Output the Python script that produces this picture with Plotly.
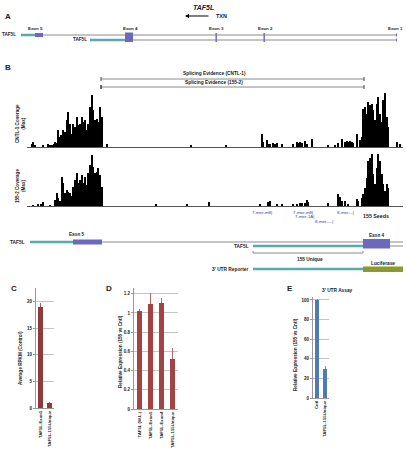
import plotly.graph_objects as go

W, H = 406, 454


def px(x):
    return x / W


def py(y):
    return 1 - y / H


# ---------------- data ----------------
# Panel B coverage (genomic bin position, coverage height; arbitrary units)
cov_pos_cntl = [32, 33.5, 35, 43, 48, 50, 52, 54, 55.5, 57, 58, 60, 61.5, 63, 65, 67, 68, 70, 72, 73,
                75, 77, 78, 80, 82, 83, 85, 87, 88, 90, 92, 93, 95, 97, 98, 100, 102, 107, 191, 226,
                262, 263.5, 267, 268.5, 270, 273, 275, 277, 282, 293, 297, 298.5, 300, 302, 305, 307, 312,
                328, 335, 338, 342, 345, 347, 348.5, 350, 352, 353, 357, 360, 362, 363, 365, 367, 368,
                370, 372, 373, 375, 377, 378, 380, 382, 383, 385, 387, 388, 397, 400]
cov_cntl = [3, 5, 2, 2, 3, 2, 2, 3, 5, 4, 17, 10, 12, 17, 15, 27, 35, 23, 13, 23,
            20, 30, 22, 23, 30, 25, 27, 17, 23, 40, 52, 37, 27, 28, 25, 40, 30, 3, 2, 2,
            13, 5, 7, 3, 3, 4, 3, 4, 3, 3, 5, 4, 5, 4, 6, 3, 8,
            2, 2, 4, 8, 5, 6, 5, 6, 5, 4, 13, 7, 10, 38, 40, 33, 45,
            42, 43, 37, 27, 43, 50, 33, 25, 47, 54, 30, 20, 5, 3]

cov_pos_155 = [33, 38, 41, 43, 50, 55, 57, 58, 60, 62, 63, 65, 67, 68, 70, 72, 73, 75, 77, 78,
               80, 82, 83, 85, 87, 88, 90, 92, 93, 95, 97, 98, 100, 102, 156, 187, 209,
               260, 268, 270, 277, 282, 293, 297, 300, 302, 305, 307, 308.5, 328, 338, 340, 342, 345,
               348, 357, 358.5, 362, 363, 365, 367, 368, 370, 372, 373, 375, 377, 378, 380, 382,
               383, 385, 387, 388]
cov_155 = [1, 2, 2, 4, 1, 6, 13, 8, 5, 29, 23, 13, 16, 14, 13, 10, 19, 26, 33, 23,
           26, 31, 23, 29, 21, 33, 41, 51, 39, 33, 34, 38, 31, 19, 2, 2, 4,
           2, 4, 5, 2, 2, 2, 2, 3, 3, 3, 6, 4, 3, 12, 9, 5, 5,
           2, 7, 5, 8, 12, 18, 28, 45, 48, 52, 32, 22, 38, 52, 45, 32,
           22, 15, 22, 18]

# Panel C
c_cats = ["TAF5L-Exon5", "TAF5L-155Unique"]
c_vals = [19.0, 0.9]
c_err = [0.8, 0.15]
c_ticks = [0, 5, 10, 15, 20]

# Panel D
d_cats = ["TAF5L (W.L.)", "TAF5L-Exon5", "TAF5L-Exon4", "TAF5L-155Unique"]
d_vals = [1.02, 1.09, 1.10, 0.52]
d_err = [0.02, 0.12, 0.06, 0.12]
d_ticks = [0, 0.2, 0.4, 0.6, 0.8, 1, 1.2]

# Panel E
e_cats = ["Cntl", "TAF5L-155Unique"]
e_vals = [100, 30]
e_err = [1, 3]
e_ticks = [0, 20, 40, 60, 80, 100]

# ---------------- styles ----------------
FONT = "Liberation Sans"
TEAL = "#5aa9ab"
PURP = "#6c68bd"
OLIVE = "#8c9a2e"
GRAY = "#8a8a8a"
DARK = "#222222"
RED_C = "#8e3b3b"
RED_D = "#a34343"
BLUE = "#4f7bb3"
GRID = "#c4c4c4"

fig = go.Figure()

# coverage tracks
fig.add_trace(go.Bar(x=cov_pos_cntl, y=cov_cntl, width=1.8, marker=dict(color="black", line_width=0),
                     xaxis="x", yaxis="y"))
fig.add_trace(go.Bar(x=cov_pos_155, y=cov_155, width=1.8, marker=dict(color="black", line_width=0),
                     xaxis="x2", yaxis="y2"))

# bar panels
fig.add_trace(go.Bar(x=c_cats, y=c_vals, width=0.45, marker=dict(color=RED_C, line_width=0),
                     error_y=dict(type="data", array=c_err, color=RED_C, thickness=0.8, width=0),
                     xaxis="x3", yaxis="y3"))
fig.add_trace(go.Bar(x=d_cats, y=d_vals, width=0.38, marker=dict(color=RED_D, line_width=0),
                     error_y=dict(type="data", array=d_err, color=RED_D, thickness=0.8, width=0),
                     xaxis="x4", yaxis="y4"))
fig.add_trace(go.Bar(x=e_cats, y=e_vals, width=0.5, marker=dict(color=BLUE, line_width=0),
                     error_y=dict(type="data", array=e_err, color=BLUE, thickness=0.8, width=0),
                     xaxis="x5", yaxis="y5"))


def track_axes(ybot, ytop):
    xa = dict(domain=[px(27), px(403)], range=[27, 403], showline=True, linecolor="#555", linewidth=1,
              showticklabels=False, showgrid=False, zeroline=False, ticks="", automargin=False, fixedrange=True)
    ya = dict(domain=[py(ybot), py(ytop)], range=[0, 55], visible=False, automargin=False)
    return xa, ya


def bar_axes(x0, x1, ybot, ytop, yrange, ticks, nc):
    xa = dict(domain=[px(x0), px(x1)], type="category", range=[-0.5, nc - 0.5], tickangle=-90,
              tickfont=dict(size=4.3, family=FONT, color=DARK, weight="bold"), showline=True, linecolor="#999",
              linewidth=1, ticks="", showgrid=False, zeroline=False, automargin=False)
    ya = dict(domain=[py(ybot), py(ytop)], range=yrange, tickvals=ticks, showgrid=True, gridcolor=GRID,
              gridwidth=1, showline=True, linecolor="#999", linewidth=1, ticks="outside", ticklen=2,
              tickcolor="#999", tickfont=dict(size=4.5, family=FONT, color=DARK, weight="bold"), zeroline=False,
              automargin=False)
    return xa, ya


xa1, ya1 = track_axes(147, 92)
xa2, ya2 = track_axes(206, 151)
xa3, ya3 = bar_axes(36, 54, 408, 288, [0, 22.6], c_ticks, 2)
xa4, ya4 = bar_axes(134, 178, 409, 288, [0, 1.26], d_ticks, 4)
xa5, ya5 = bar_axes(313, 329, 398, 297, [0, 103], e_ticks, 2)
xa1["anchor"] = "y"; ya1["anchor"] = "x"
xa2["anchor"] = "y2"; ya2["anchor"] = "x2"
xa3["anchor"] = "y3"; ya3["anchor"] = "x3"
xa4["anchor"] = "y4"; ya4["anchor"] = "x4"
xa5["anchor"] = "y5"; ya5["anchor"] = "x5"

shapes = []
annots = []


def line(x0, y0, x1, y1, color=GRAY, width=1):
    shapes.append(dict(type="line", xref="paper", yref="paper", x0=px(x0), y0=py(y0), x1=px(x1), y1=py(y1),
                       line=dict(color=color, width=width)))


def rect(x0, y0, x1, y1, color):
    shapes.append(dict(type="rect", xref="paper", yref="paper", x0=px(x0), y0=py(y0), x1=px(x1), y1=py(y1),
                       fillcolor=color, line=dict(width=0)))


def txt(x, y, s, size=5, bold=True, color=DARK, xanchor="center", angle=0, italic=False):
    t = s
    if bold:
        t = "<b>" + t + "</b>"
    if italic:
        t = "<i>" + t + "</i>"
    annots.append(dict(x=px(x), y=py(y), xref="paper", yref="paper", text=t, showarrow=False,
                       xanchor=xanchor, yanchor="middle", textangle=angle,
                       font=dict(size=size, family=FONT, color=color)))


# ---------- Panel A ----------
txt(3, 16, "A", size=8, xanchor="left")
txt(203, 7, "TAF5L", size=7, italic=True)
annots.append(dict(x=px(185), y=py(16), xref="paper", yref="paper", text="", showarrow=True,
                   ax=25, ay=0, axref="pixel", ayref="pixel", arrowhead=2, arrowsize=0.8,
                   arrowwidth=1, arrowcolor="black", standoff=0, startstandoff=0))
txt(214, 16, "TXN", size=5.5, xanchor="left")

line(21, 35, 397, 35, GRAY, 1)
line(21, 35, 35, 35, TEAL, 2.5)
rect(35, 33, 43, 37, PURP)
line(90, 40, 397, 40, GRAY, 1)
line(90, 40, 125, 40, TEAL, 2.5)
rect(125, 32.5, 133, 42, PURP)
rect(215.5, 33, 216.9, 42, PURP)
rect(263.5, 33, 264.9, 42, PURP)
line(396.5, 33.5, 396.5, 36.5, PURP, 1)
line(396.5, 38.5, 396.5, 41.5, PURP, 1)
txt(9, 34.5, "TAF5L", size=4.6, xanchor="center")
txt(80, 39.5, "TAF5L", size=4.6, xanchor="center")
for xx, lab in [(35, "Exon 5"), (130, "Exon 4"), (217, "Exon 3"), (265, "Exon 2"), (395, "Exon 1")]:
    txt(xx, 29, lab, size=4.4)

# ---------- Panel B ----------
txt(3, 67, "B", size=8, xanchor="left")
txt(214, 74, "Splicing Evidence (CNTL-1)", size=4.8)
line(101, 79, 364, 79, GRAY, 1)
line(101, 77, 101, 81, "#444", 1)
line(364, 77, 364, 81, "#444", 1)
txt(214, 83, "Splicing Evidence (155-2)", size=4.8)
line(101, 87, 364, 87, GRAY, 1)
line(101, 85, 101, 89, "#111", 1.2)
line(364, 85, 364, 89, "#444", 1)

txt(20, 124, "CNTL-1 Coverage<br>(Max)", size=4.6, angle=-90)
txt(20, 186, "155-2 Coverage<br>(Max)", size=4.6, angle=-90)

SEED = "#3a3ab8"
txt(262, 212, "7-mer-m8|", size=4.4, bold=False, color=SEED)
txt(303, 212, "7-mer-m8|", size=4.4, bold=False, color=SEED)
txt(304, 216.5, "7-mer-1A|", size=4.4, bold=False, color=SEED)
txt(324, 221, "8-mer----|", size=4.4, bold=False, color=SEED)
txt(345, 212, "8-mer---|", size=4.4, bold=False, color=SEED)
txt(376, 216, "155 Seeds", size=5.3)

# gene model
txt(17, 242, "TAF5L", size=4.8)
line(30, 242, 403, 242, GRAY, 1)
line(30, 242, 73, 242, TEAL, 2.5)
rect(73, 239.5, 102, 244.5, PURP)
txt(77, 234, "Exon 5", size=4.6)
txt(241, 246, "TAF5L", size=4.8)
line(253, 246, 403, 246, GRAY, 1)
line(253, 246, 363, 246, TEAL, 2.5)
rect(363, 239, 390, 248.5, PURP)
txt(377, 235, "Exon 4", size=4.6)
line(253, 253, 363, 253, GRAY, 1)
line(253, 251, 253, 253, GRAY, 1)
line(363, 251, 363, 253, GRAY, 1)
txt(310, 259, "155 Unique", size=4.8)
txt(250, 269, "3' UTR Reporter", size=4.8, xanchor="right")
line(253, 269, 363, 269, TEAL, 2.5)
rect(363, 266.5, 403, 272, OLIVE)
txt(383, 263, "Luciferase", size=4.8)

# ---------- Panel C/D/E ----------
txt(9, 288, "C", size=8, xanchor="left")
txt(104, 288, "D", size=8, xanchor="left")
txt(285, 288, "E", size=8, xanchor="left")
txt(320, 290, "3' UTR Assay", size=4.8, xanchor="left")
txt(20, 358, "Average RPKM (Control)", size=4.6, angle=-90)
txt(120, 352, "Relative Expression (155 vs Cntl)", size=4.6, angle=-90)
txt(295, 355, "Relative Expression (155 vs Cntl)", size=4.6, angle=-90)

fig.update_layout(
    width=W, height=H, margin=dict(l=0, r=0, t=0, b=0),
    paper_bgcolor="white", plot_bgcolor="rgba(0,0,0,0)",
    showlegend=False, bargap=0,
    font=dict(family=FONT, size=5, color=DARK),
    xaxis=xa1, yaxis=ya1, xaxis2=xa2, yaxis2=ya2,
    xaxis3=xa3, yaxis3=ya3, xaxis4=xa4, yaxis4=ya4, xaxis5=xa5, yaxis5=ya5,
    shapes=shapes, annotations=annots,
)

fig.write_html("out.html")
